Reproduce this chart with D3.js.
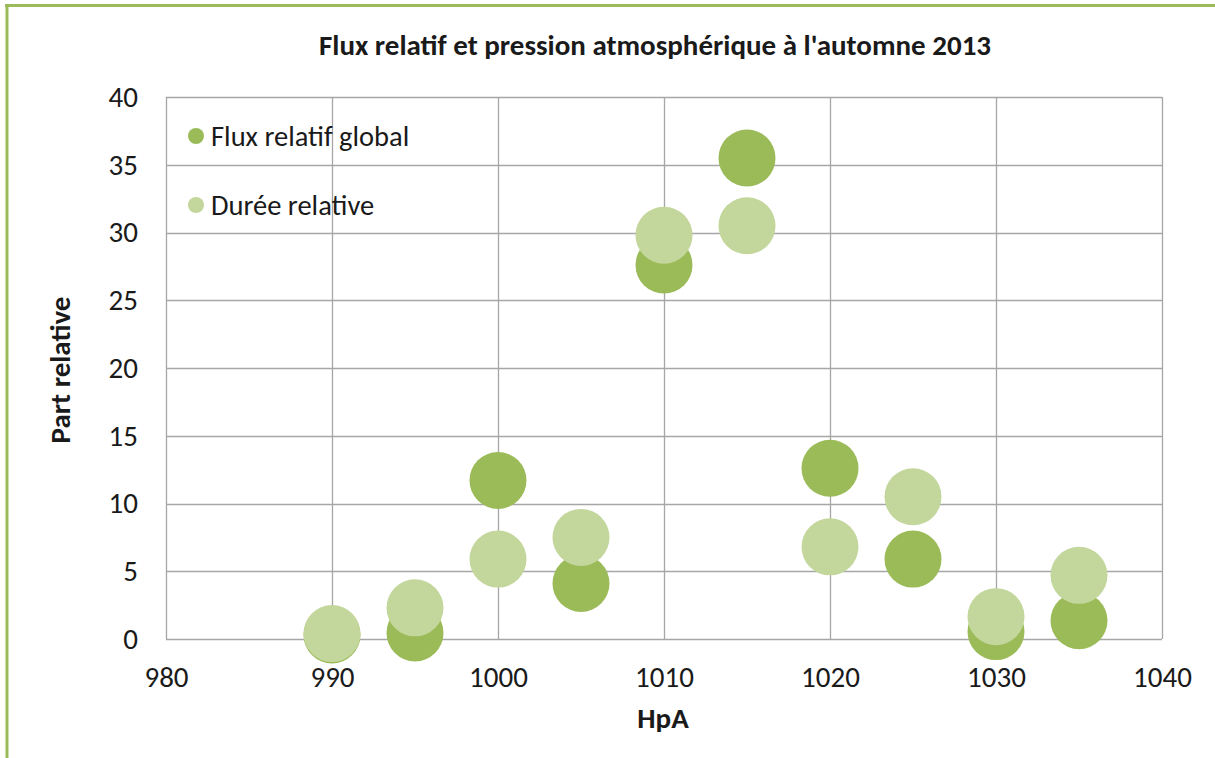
<!DOCTYPE html>
<html>
<head>
<meta charset="utf-8">
<script src="https://cdn.jsdelivr.net/npm/d3@7"></script>
<style>
  html, body { margin: 0; padding: 0; background: #ffffff; }
  svg { display: block; }
  text { font-family: Carlito, Calibri, Lato, "Open Sans", sans-serif; fill: #1a1a1a; }
</style>
</head>
<body>
<svg id="chart" width="1215" height="758"></svg>
<script>
// Pressure classes (hPa)
const pressure = [990, 995, 1000, 1005, 1010, 1015, 1020, 1025, 1030, 1035];
// Relative global flux per pressure class (%)
const fluxRelatif = [0.3, 0.45, 11.7, 4.1, 27.6, 35.5, 12.6, 5.9, 0.55, 1.35];
// Relative duration per pressure class (%)
const dureeRelative = [0.4, 2.3, 5.9, 7.5, 29.8, 30.5, 6.8, 10.5, 1.65, 4.7];

const xTicks = [980, 990, 1000, 1010, 1020, 1030, 1040];
const yTicks = [0, 5, 10, 15, 20, 25, 30, 35, 40];

const seriesNames = ["Flux relatif global", "Durée relative"];
const seriesColors = ["#9bbb59", "#c3d69b"];

const FONT = "Carlito, Calibri, Lato, 'Open Sans', sans-serif";
const svg = d3.select("#chart");
const W = 1215, H = 758;
const plot = { left: 166, right: 1162, top: 97, bottom: 639 };

// Outer frame: green top and left edges
svg.append("rect").attr("x", 0).attr("y", 0).attr("width", W).attr("height", H).attr("fill", "#ffffff");
svg.append("line").attr("x1", 5).attr("x2", W).attr("y1", 5.5).attr("y2", 5.5)
  .attr("stroke", "#9bbb59").attr("stroke-width", 3);
svg.append("line").attr("x1", 7).attr("x2", 7).attr("y1", 4).attr("y2", H)
  .attr("stroke", "#9bbb59").attr("stroke-width", 3);

const x = d3.scaleLinear().domain([980, 1040]).range([plot.left, plot.right]);
const y = d3.scaleLinear().domain([0, 40]).range([plot.bottom, plot.top]);

// Gridlines
const grid = svg.append("g").attr("stroke", "#a6a6a6").attr("stroke-width", 1.3);
yTicks.forEach(t => {
  grid.append("line").attr("x1", plot.left).attr("x2", plot.right)
    .attr("y1", Math.round(y(t)) + 0.5).attr("y2", Math.round(y(t)) + 0.5);
});
xTicks.forEach(t => {
  grid.append("line").attr("y1", plot.top).attr("y2", plot.bottom)
    .attr("x1", Math.round(x(t)) + 0.5).attr("x2", Math.round(x(t)) + 0.5);
});

// Axes (labels only; lines come from the grid)
const xAxis = svg.append("g").attr("transform", `translate(0,${plot.bottom})`)
  .call(d3.axisBottom(x).tickValues(xTicks).tickSize(0).tickPadding(26).tickFormat(d3.format("d")));
xAxis.select(".domain").remove();
xAxis.selectAll("text").attr("font-size", 29).attr("fill", "#1a1a1a").attr("dy", "0.35em").attr("y", 38)
  .style("font-family", FONT);

const yAxis = svg.append("g").attr("transform", `translate(${plot.left},0)`)
  .call(d3.axisLeft(y).tickValues(yTicks).tickSize(0).tickPadding(28).tickFormat(d3.format("d")));
yAxis.select(".domain").remove();
yAxis.selectAll("text").attr("font-size", 29).attr("fill", "#1a1a1a")
  .style("font-family", FONT);

// Bubbles: first series below, second series on top
const R = 28.5;
[fluxRelatif, dureeRelative].forEach((vals, i) => {
  svg.append("g").selectAll("circle")
    .data(pressure.map((p, j) => ({ p, v: vals[j] })))
    .join("circle")
    .attr("cx", d => x(d.p))
    .attr("cy", d => y(d.v))
    .attr("r", R)
    .attr("fill", seriesColors[i]);
});

// Legend
const legend = svg.append("g");
seriesNames.forEach((name, i) => {
  const ly = 136 + i * 69;
  legend.append("circle").attr("cx", 196).attr("cy", ly).attr("r", 8).attr("fill", seriesColors[i]);
  legend.append("text").attr("x", 211).attr("y", ly).attr("dy", "0.35em")
    .attr("font-size", 28.5).text(name);
});

// Titles
svg.append("text").attr("x", 655).attr("y", 45).attr("dy", "0.35em")
  .attr("text-anchor", "middle").attr("font-size", 29).attr("font-weight", "bold")
  .text("Flux relatif et pression atmosphérique à l'automne 2013");

svg.append("text").attr("x", 663).attr("y", 718).attr("dy", "0.35em")
  .attr("text-anchor", "middle").attr("font-size", 29).attr("font-weight", "bold")
  .text("HpA");

svg.append("text")
  .attr("transform", `translate(60,370) rotate(-90)`)
  .attr("dy", "0.35em")
  .attr("text-anchor", "middle").attr("font-size", 29).attr("font-weight", "bold")
  .text("Part relative");
</script>
</body>
</html>
